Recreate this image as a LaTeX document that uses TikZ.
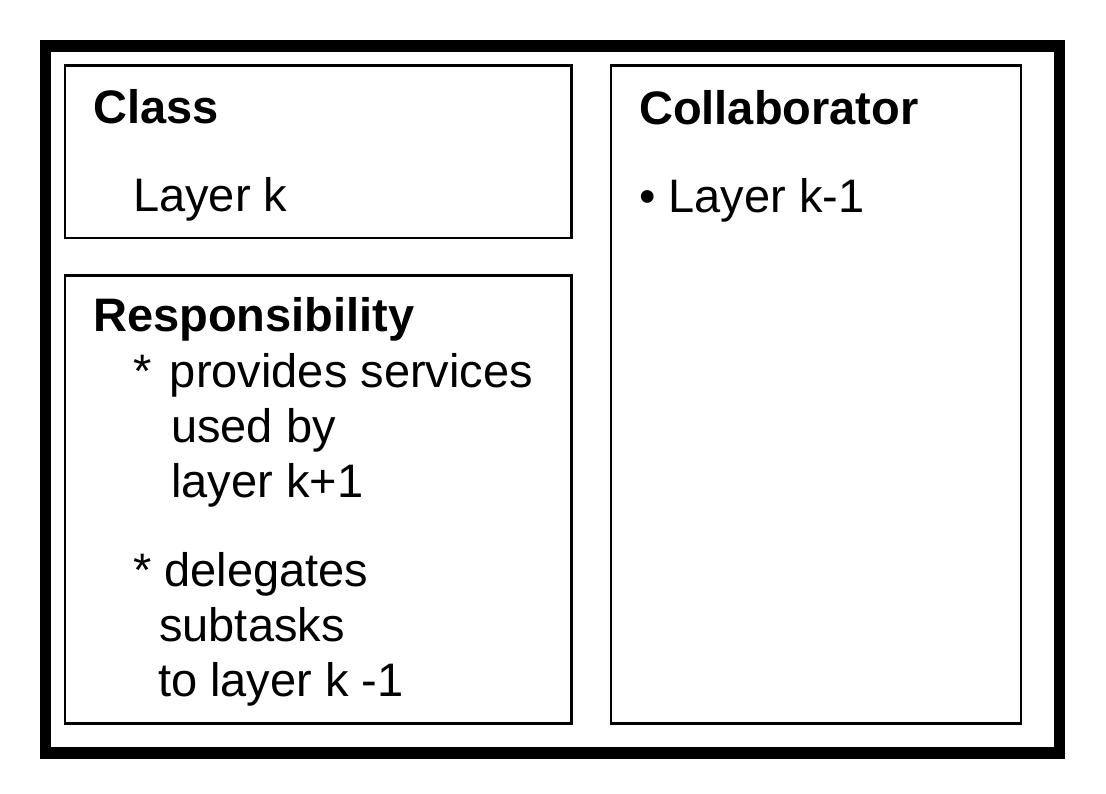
\documentclass[tikz,border=0pt]{standalone}
\usepackage{fontspec}
\setmainfont{Liberation Sans}
\begin{document}
\begin{tikzpicture}[x=1pt,y=-1pt,
  frame/.style={draw=black,line width=11.5pt},
  card/.style={draw=black,line width=2.5pt},
  txt/.style={anchor=base west,inner sep=0pt,font=\fontsize{47}{56}\selectfont},
  head/.style={txt,font=\fontsize{47}{56}\selectfont\bfseries}]
\useasboundingbox[fill=white] (0,0) rectangle (1106,793);
\draw[frame] (45.5,46) rectangle (1059.5,753);
\draw[card] (65,65.5) rectangle (571.5,238);
\draw[card] (65,275.5) rectangle (571.5,723.5);
\draw[card] (611,65.5) rectangle (1021,723.5);
\node[head] (cls) at (93,123.5) {Class};
\node[txt] (clsv) at (133,211.5) {Layer k};
\node[head] (resp) at (93,331.5) {Responsibility};
\node[txt] (r1) at (133,387) {*\hspace{18.5pt}provides services};
\node[txt] (r2) at (171,442.5) {used by};
\node[txt] (r3) at (171,497.5) {layer k+1};
\node[txt] (r4) at (133,586) {* delegates};
\node[txt] (r5) at (159,641) {subtasks};
\node[txt] (r6) at (158,696.5) {to layer k -1};
\node[head] (col) at (639,124) {Collaborator};
\node[txt] (colv) at (639,212) {• Layer k-1};
\end{tikzpicture}
\end{document}
